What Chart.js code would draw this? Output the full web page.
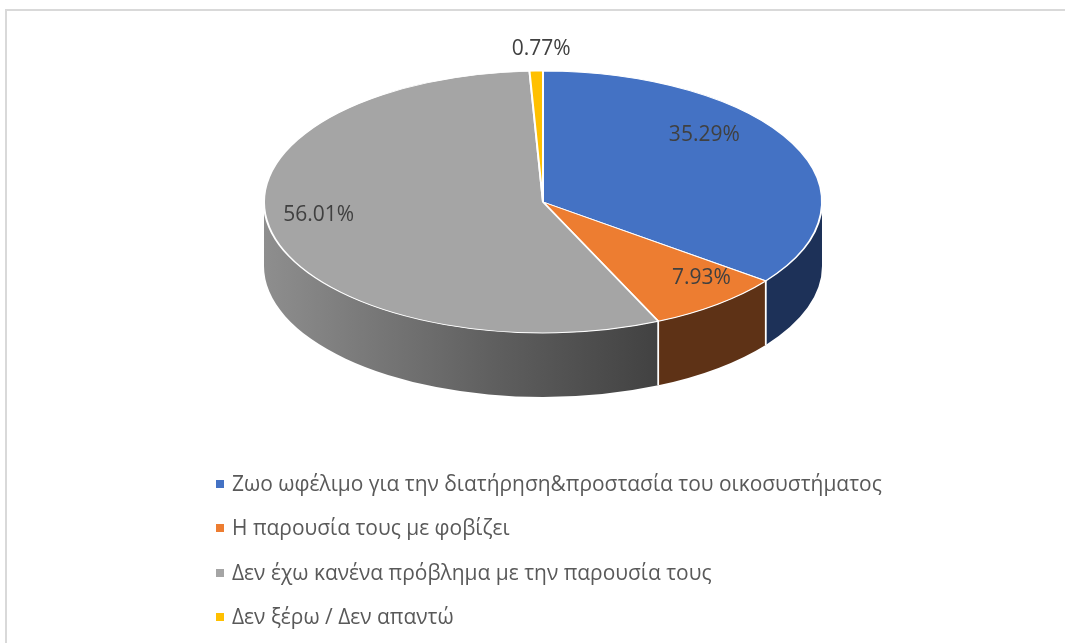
<!DOCTYPE html>
<html>
<head>
<meta charset="utf-8">
<script src="https://cdn.jsdelivr.net/npm/chart.js@4.4.1/dist/chart.umd.min.js"></script>
<style>
  html, body { margin: 0; padding: 0; background: #ffffff; }
  #c { display: block; }
</style>
</head>
<body>
<canvas id="c" width="1065" height="643"></canvas>
<script>
// ---- data ----
const categories = [
  'Ζωο ωφέλιμο για την διατήρηση&προστασία του οικοσυστήματος',
  'Η παρουσία τους με φοβίζει',
  'Δεν έχω κανένα πρόβλημα με την παρουσία τους',
  'Δεν ξέρω / Δεν απαντώ'
];
const percentages = [35.29, 7.93, 56.01, 0.77];
const valueLabels = ['35.29%', '7.93%', '56.01%', '0.77%'];

// ---- styles ----
const topColors = ['#4472c4', '#ed7d31', '#a5a5a5', '#ffc000'];
const sideColors = ['#1d3158', '#5e3216', 'grad', '#8a6a00'];
const FONT = '"Open Sans", "Noto Sans", sans-serif';

const geom = { cx: 543, cy: 202, ry: 131, depth: 64 };
// label placement: radial fraction and small nudges (px)
const labelPlace = [
  { f: 0.65, dx: -1, dy: -29 },
  { f: 0.65, dx: 45, dy: 10 },
  { f: 0.65, dx: -48, dy: -7 },
  { f: 1.17, dx: 6, dy: 0 }
];

const pie3d = {
  id: 'pie3d',
  beforeDraw(chart) {
    const ctx = chart.ctx;
    ctx.save();
    ctx.fillStyle = '#ffffff';
    ctx.fillRect(0, 0, chart.width, chart.height);
    ctx.strokeStyle = '#d9d9d9';
    ctx.lineWidth = 2;
    ctx.strokeRect(6, 10, chart.width + 20, chart.height + 20);
    ctx.restore();
  },
  beforeDatasetsDraw(chart) {
    const ctx = chart.ctx;
    const meta = chart.getDatasetMeta(0);
    const arcs = meta.data;
    if (!arcs.length) return;
    const rx = arcs[0].outerRadius;
    const ry = geom.ry;
    const { cx, cy, depth } = geom;
    ctx.save();
    const grad = ctx.createLinearGradient(cx - rx, 0, cx + 140, 0);
    grad.addColorStop(0, '#8e8e8e');
    grad.addColorStop(0.55, '#5f5f5f');
    grad.addColorStop(1, '#3d3d3d');
    arcs.forEach((a, i) => {
      const s = Math.max(a.startAngle, 0);
      const e = Math.min(a.endAngle, Math.PI);
      if (s >= e) return;
      ctx.beginPath();
      ctx.ellipse(cx, cy, rx, ry, 0, s, e, false);
      ctx.ellipse(cx, cy + depth, rx, ry, 0, e, s, true);
      ctx.closePath();
      ctx.fillStyle = sideColors[i] === 'grad' ? grad : sideColors[i];
      ctx.fill();
    });
    ctx.strokeStyle = '#ffffff';
    ctx.lineWidth = 1.5;
    arcs.forEach((a) => {
      [a.startAngle, a.endAngle].forEach((ang) => {
        if (ang > 0.02 && ang < Math.PI - 0.02) {
          const x = cx + rx * Math.cos(ang);
          const y = cy + ry * Math.sin(ang);
          ctx.beginPath();
          ctx.moveTo(x, y);
          ctx.lineTo(x, y + depth);
          ctx.stroke();
        }
      });
    });
    ctx.restore();
    ctx.save();
    const a0 = arcs[0];
    ctx.translate(cx, cy);
    ctx.scale(1, ry / rx);
    ctx.translate(-a0.x, -a0.y);
  },
  afterDatasetsDraw(chart) {
    const ctx = chart.ctx;
    ctx.restore();
    const arcs = chart.getDatasetMeta(0).data;
    if (!arcs.length) return;
    const rx = arcs[0].outerRadius;
    const ry = geom.ry;
    const { cx, cy } = geom;
    ctx.save();
    ctx.fillStyle = '#404040';
    ctx.font = '21px ' + FONT;
    ctx.textAlign = 'center';
    ctx.textBaseline = 'middle';
    arcs.forEach((a, i) => {
      const mid = (a.startAngle + a.endAngle) / 2;
      const p = labelPlace[i];
      const x = cx + rx * p.f * Math.cos(mid) + p.dx;
      const y = cy + ry * p.f * Math.sin(mid) + p.dy;
      ctx.fillText(valueLabels[i], x, y);
    });
    ctx.restore();

    ctx.save();
    let size = 20;
    ctx.font = size + 'px ' + FONT;
    const w = ctx.measureText(categories[0]).width;
    size = Math.max(16, Math.min(22, size * 650 / w));
    ctx.font = size + 'px ' + FONT;
    ctx.textAlign = 'left';
    ctx.textBaseline = 'middle';
    const rows = [484, 528, 573, 617];
    categories.forEach((c, i) => {
      const y = rows[i];
      ctx.fillStyle = topColors[i];
      ctx.fillRect(216, y - 4, 8, 8);
      ctx.fillStyle = '#595959';
      ctx.fillText(c, 232, y + 1);
    });
    ctx.restore();
  }
};

new Chart(document.getElementById('c'), {
  type: 'pie',
  data: {
    labels: categories,
    datasets: [{
      data: percentages,
      backgroundColor: topColors,
      borderColor: '#ffffff',
      borderWidth: 2,
      radius: 279,
      clip: false
    }]
  },
  options: {
    responsive: false,
    devicePixelRatio: 1,
    animation: false,
    events: [],
    layout: { padding: 0 },
    plugins: {
      legend: { display: false },
      tooltip: { enabled: false }
    }
  },
  plugins: [pie3d]
});
</script>
</body>
</html>
